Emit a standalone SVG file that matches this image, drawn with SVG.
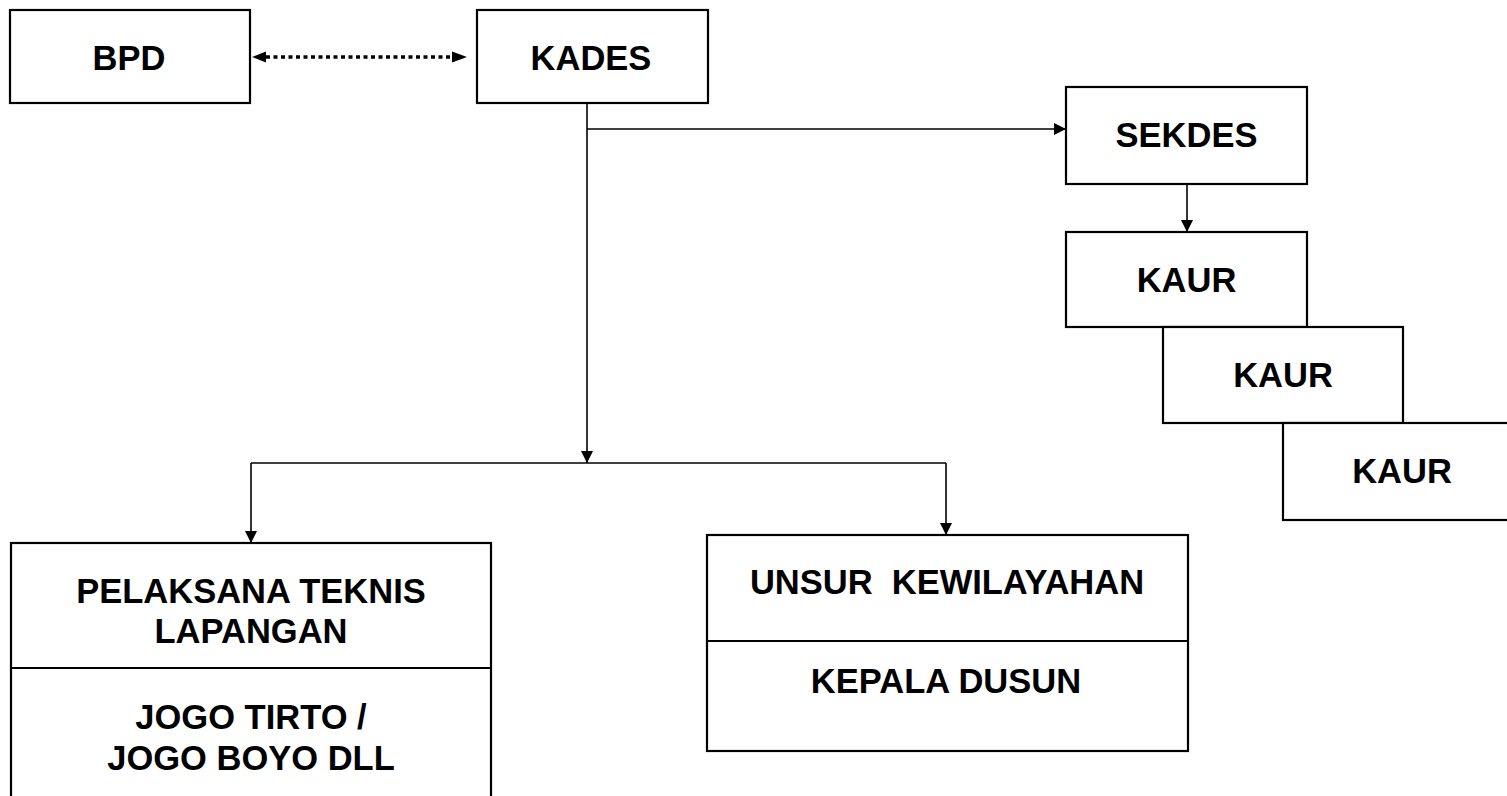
<svg xmlns="http://www.w3.org/2000/svg" width="1507" height="796" viewBox="0 0 1507 796">
<style>
.box{fill:#fff;stroke:#000;stroke-width:2.2}
.t{font-family:"Liberation Sans",Arial,sans-serif;font-weight:bold;font-size:34.5px;fill:#000;text-anchor:middle}
.c{fill:none;stroke:#000;stroke-width:1.6}
.d{fill:none;stroke:#000;stroke-width:3.5;stroke-dasharray:4 3.5}
</style>
<defs>
<marker id="ah" viewBox="0 0 12 12" refX="12" refY="6" markerWidth="12" markerHeight="12" markerUnits="userSpaceOnUse" orient="auto">
<path d="M0,0 L12,6 L0,12 Z" fill="#000"/>
</marker>
</defs>
<rect width="1507" height="796" fill="#fff"/>
<g id="connectors">
<line class="d" x1="266" y1="57" x2="452" y2="57"/>
<path d="M266,51.5 L252,57 L266,62.5 Z" fill="#000"/>
<path d="M452,51.5 L467,57 L452,62.5 Z" fill="#000"/>
<path class="c" d="M587,103 V463" marker-end="url(#ah)"/>
<path class="c" d="M587,129 H1066" marker-end="url(#ah)"/>
<path class="c" d="M1187,184 V232" marker-end="url(#ah)"/>
<path class="c" d="M251,463 H946"/>
<path class="c" d="M251,463 V543" marker-end="url(#ah)"/>
<path class="c" d="M946,463 V535" marker-end="url(#ah)"/>
</g>
<g id="bpd">
<rect class="box" x="10" y="10" width="240" height="93"/>
<text class="t" x="129" y="70">BPD</text>
</g>
<g id="kades">
<rect class="box" x="477" y="10" width="231" height="93"/>
<text class="t" x="591" y="70">KADES</text>
</g>
<g id="sekdes">
<rect class="box" x="1066" y="87" width="241" height="97"/>
<text class="t" x="1186.5" y="147">SEKDES</text>
</g>
<g id="kaur1">
<rect class="box" x="1066" y="232" width="241" height="95"/>
<text class="t" x="1186.5" y="292">KAUR</text>
</g>
<g id="kaur2">
<rect class="box" x="1163" y="327" width="240" height="96"/>
<text class="t" x="1283" y="387">KAUR</text>
</g>
<g id="kaur3">
<rect class="box" x="1283" y="423" width="240" height="97"/>
<text class="t" x="1402" y="483">KAUR</text>
</g>
<g id="pelaksana">
<rect class="box" x="11" y="543" width="480" height="270"/>
<line class="box" x1="11" y1="668" x2="491" y2="668"/>
<text class="t" x="251" y="603">PELAKSANA TEKNIS</text>
<text class="t" x="251" y="643">LAPANGAN</text>
<text class="t" x="251" y="729">JOGO TIRTO /</text>
<text class="t" x="251" y="770">JOGO BOYO DLL</text>
</g>
<g id="unsur">
<rect class="box" x="707" y="535" width="481" height="216"/>
<line class="box" x1="707" y1="641" x2="1188" y2="641"/>
<text class="t" x="947" y="594" xml:space="preserve">UNSUR  KEWILAYAHAN</text>
<text class="t" x="946" y="693">KEPALA DUSUN</text>
</g>
</svg>
